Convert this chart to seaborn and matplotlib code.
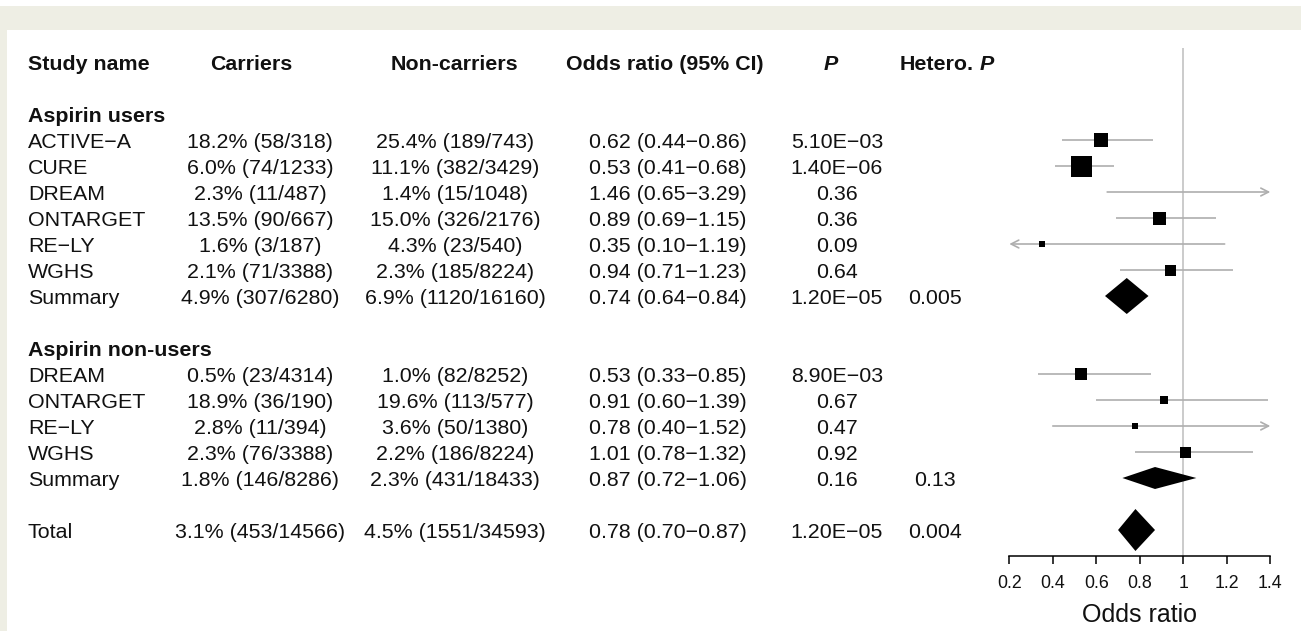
import numpy as np
import pandas as pd
import matplotlib
matplotlib.use("Agg")
import matplotlib.pyplot as plt
from matplotlib.patches import Rectangle
import seaborn as sns

# ---------------------------------------------------------------- data
group_labels = ["Aspirin users", "Aspirin non-users"]
study_names = ["ACTIVE−A", "CURE", "DREAM", "ONTARGET", "RE−LY", "WGHS", "Summary",
               "DREAM", "ONTARGET", "RE−LY", "WGHS", "Summary",
               "Total"]
carriers = ["18.2% (58/318)", "6.0% (74/1233)", "2.3% (11/487)", "13.5% (90/667)",
            "1.6% (3/187)", "2.1% (71/3388)", "4.9% (307/6280)",
            "0.5% (23/4314)", "18.9% (36/190)", "2.8% (11/394)", "2.3% (76/3388)",
            "1.8% (146/8286)",
            "3.1% (453/14566)"]
non_carriers = ["25.4% (189/743)", "11.1% (382/3429)", "1.4% (15/1048)", "15.0% (326/2176)",
                "4.3% (23/540)", "2.3% (185/8224)", "6.9% (1120/16160)",
                "1.0% (82/8252)", "19.6% (113/577)", "3.6% (50/1380)", "2.2% (186/8224)",
                "2.3% (431/18433)",
                "4.5% (1551/34593)"]
odds_ratio = [0.62, 0.53, 1.46, 0.89, 0.35, 0.94, 0.74,
              0.53, 0.91, 0.78, 1.01, 0.87,
              0.78]
ci_low = [0.44, 0.41, 0.65, 0.69, 0.10, 0.71, 0.64,
          0.33, 0.60, 0.40, 0.78, 0.72,
          0.70]
ci_high = [0.86, 0.68, 3.29, 1.15, 1.19, 1.23, 0.84,
           0.85, 1.39, 1.52, 1.32, 1.06,
           0.87]
p_values = ["5.10E−03", "1.40E−06", "0.36", "0.36", "0.09", "0.64", "1.20E−05",
            "8.90E−03", "0.67", "0.47", "0.92", "0.16",
            "1.20E−05"]
hetero_p = ["", "", "", "", "", "", "0.005",
            "", "", "", "", "0.13",
            "0.004"]
is_summary = [False] * 6 + [True] + [False] * 4 + [True] + [True]
x_ticks = [0.2, 0.4, 0.6, 0.8, 1.0, 1.2, 1.4]

# ---------------------------------------------------------------- layout / style
W, H = 1301, 631
ROW_PX = 26.0
row_of_group = [2, 11]
row_of_study = [3, 4, 5, 6, 7, 8, 9, 12, 13, 14, 15, 16, 18]
box_px = [14, 21, 8, 13, 6, 11, 0, 12, 8, 6, 11, 0, 0]        # square side (px)
diamond_half_px = [0, 0, 0, 0, 0, 0, 18, 0, 0, 0, 0, 11, 21]  # diamond half height (px)
AXIS_ROW = 19
TOP_ROW = (48 - 62) / ROW_PX
XMIN, XMAX = 0.2, 1.4
BASE = 0.29          # baseline offset below row centre (rows)
FS = 15.4
INK = "#111111"
CI_GREY = "#AEAEAE"
PAGE = "#EEEEE4"

sns.set_theme(style="white")
plt.rcParams["font.family"] = ["Liberation Sans", "DejaVu Sans"]
plt.rcParams["axes.unicode_minus"] = True

fig = plt.figure(figsize=(W / 100, H / 100), dpi=100)
fig.patch.set_facecolor("white")
fig.patches.append(Rectangle((0, 1 - 30 / H), 1, 24 / H, transform=fig.transFigure,
                             facecolor=PAGE, edgecolor="none", zorder=-10))
fig.patches.append(Rectangle((0, 0), 7 / W, 1 - 6 / H, transform=fig.transFigure,
                             facecolor=PAGE, edgecolor="none", zorder=-10))

y_bottom_px = 62 + ROW_PX * AXIS_ROW
ax_rect_b = 1 - y_bottom_px / H
ax_rect_h = (y_bottom_px - 48) / H

# table axes: x in pixel units across the whole width
tab = fig.add_axes([0, ax_rect_b, 1, ax_rect_h])
tab.set_xlim(0, W)
tab.set_ylim(AXIS_ROW, TOP_ROW)
tab.axis("off")
tab.patch.set_alpha(0)

# forest axes
x0_px, x1_px = 1009.3, 1270.3
ax = fig.add_axes([x0_px / W, ax_rect_b, (x1_px - x0_px) / W, ax_rect_h])
ax.set_xlim(XMIN, XMAX)
ax.set_ylim(AXIS_ROW, TOP_ROW)
ax.patch.set_alpha(0)

# ---------------------------------------------------------------- table text
def put(x, row, s, ha="center", **kw):
    return tab.text(x, row + BASE, s, ha=ha, va="baseline", fontsize=FS, color=INK, **kw)

put(28, 0, "Study name", ha="left", weight="bold")
put(251, 0, "Carriers", weight="bold")
put(454, 0, "Non-carriers", weight="bold")
put(665, 0, "Odds ratio (95% CI)", weight="bold")
put(831, 0, "P", weight="bold", style="italic")
het = put(900, 0, "Hetero.", ha="left", weight="bold")
fig.canvas.draw()
bb = het.get_window_extent(renderer=fig.canvas.get_renderer())
het_end = tab.transData.inverted().transform((bb.x1, bb.y0))[0]
put(het_end + 6, 0, "P", ha="left", weight="bold", style="italic")

for lab, r in zip(group_labels, row_of_group):
    put(28, r, lab, ha="left", weight="bold")

for i, r in enumerate(row_of_study):
    put(28, r, study_names[i], ha="left")
    put(260, r, carriers[i])
    put(455, r, non_carriers[i])
    put(668, r, f"{odds_ratio[i]:.2f} ({ci_low[i]:.2f}−{ci_high[i]:.2f})")
    put(837, r, p_values[i])
    if hetero_p[i]:
        put(935, r, hetero_p[i])

# ---------------------------------------------------------------- forest marks
ax.axvline(1.0, color="#BDBDBD", lw=1.1, zorder=1, ymin=0, ymax=1)

arrow_kw = dict(arrowstyle="->,head_length=0.55,head_width=0.28", color=CI_GREY,
                lw=1.2, shrinkA=0, shrinkB=0, mutation_scale=10)
for i, r in enumerate(row_of_study):
    if is_summary[i]:
        continue
    lo, hi = ci_low[i], ci_high[i]
    lo_c, hi_c = max(lo, XMIN), min(hi, XMAX)
    if hi > XMAX:
        ax.annotate("", xy=(XMAX, r), xytext=(lo_c, r), arrowprops=arrow_kw,
                    annotation_clip=False, zorder=2)
    elif lo < XMIN:
        ax.annotate("", xy=(XMIN, r), xytext=(hi_c, r), arrowprops=arrow_kw,
                    annotation_clip=False, zorder=2)
    else:
        ax.plot([lo, hi], [r, r], color=CI_GREY, lw=1.2, zorder=2, solid_capstyle="butt")

df = pd.DataFrame({"or": odds_ratio, "row": row_of_study, "summary": is_summary,
                   "side": box_px})
boxes = df[(~df["summary"]) & df["or"].between(XMIN, XMAX)]
sns.scatterplot(data=boxes, x="or", y="row", marker="s",
                s=(0.72 * boxes["side"].to_numpy()) ** 2,
                color="black", edgecolor="none", linewidth=0,
                legend=False, zorder=3, clip_on=False, ax=ax)

for i, r in enumerate(row_of_study):
    if not is_summary[i]:
        continue
    h = diamond_half_px[i] / ROW_PX
    ax.fill([ci_low[i], odds_ratio[i], ci_high[i], odds_ratio[i]],
            [r, r - h, r, r + h], color="black", lw=0, zorder=3)

# ---------------------------------------------------------------- axis
for side in ["left", "right", "top"]:
    ax.spines[side].set_visible(False)
ax.spines["bottom"].set_bounds(XMIN, XMAX)
ax.spines["bottom"].set_color("black")
ax.spines["bottom"].set_linewidth(1.1)
ax.set_yticks([])
ax.set_xticks(x_ticks)
ax.set_xticklabels([f"{v:g}" for v in x_ticks])
ax.tick_params(axis="x", direction="out", length=6, width=1.1, color="black",
               labelsize=12.8, labelcolor=INK, pad=7.5, bottom=True)
ax.set_xlabel("Odds ratio", fontsize=18, color=INK, labelpad=8)
ax.set_ylabel("")

fig.savefig("out.png", dpi=100, facecolor=fig.get_facecolor())
